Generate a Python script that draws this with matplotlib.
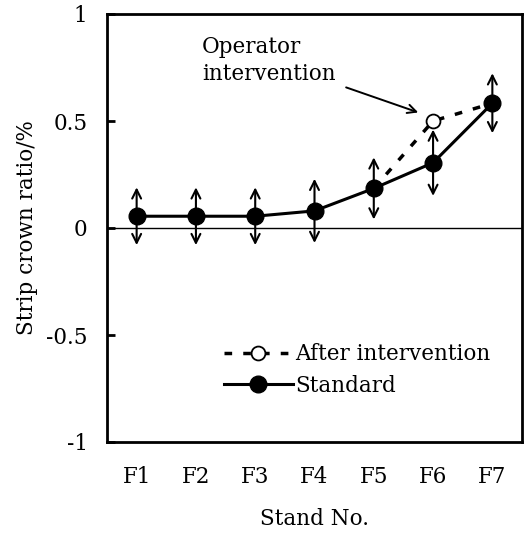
import numpy as np
import matplotlib
matplotlib.use('Agg')
import matplotlib.pyplot as plt

plt.rcParams['font.family'] = ['DejaVu Serif']

stands = ['F1', 'F2', 'F3', 'F4', 'F5', 'F6', 'F7']
standard = [0.055, 0.055, 0.055, 0.08, 0.185, 0.305, 0.583]
spread = [0.135, 0.135, 0.135, 0.15, 0.145, 0.155, 0.14]
after_stands = ['F5', 'F6', 'F7']
after = [0.185, 0.5, 0.583]

x = np.arange(1, len(stands) + 1)
x_after = [stands.index(s) + 1 for s in after_stands]

fig = plt.figure(figsize=(5.28, 5.33), dpi=100)
ax = fig.add_axes([107 / 528, 1 - 442 / 533, 415 / 528, 428 / 533])

# variation range at each stand
for xi, yi, d in zip(x, standard, spread):
    ax.annotate('', xy=(xi, yi + d), xytext=(xi, yi - d),
                arrowprops=dict(arrowstyle='<->', lw=1.5, color='black',
                                mutation_scale=16, shrinkA=0, shrinkB=0))

ax.axhline(0, color='black', lw=1.0)

ax.plot(x_after, after, ls=(0, (2.2, 3.2)), lw=2.5, color='black',
        marker='o', markersize=10, markerfacecolor='white',
        markeredgewidth=1.3, markevery=[1], label='After intervention', zorder=3)
ax.plot(x, standard, '-', lw=2.2, color='black', marker='o', markersize=12,
        markerfacecolor='black', label='Standard', zorder=4)

ax.annotate('Operator\nintervention', xy=(5.75, 0.54), xytext=(2.1, 0.67),
            fontsize=15.5, ha='left', va='bottom', linespacing=1.25,
            arrowprops=dict(arrowstyle='->', lw=1.4, color='black',
                            shrinkA=6, shrinkB=0))

ax.set_xlim(0.5, 7.5)
ax.set_ylim(-1, 1)
ax.set_xticks(x)
ax.set_xticklabels(stands)
ax.set_yticks([-1, -0.5, 0, 0.5, 1])
ax.set_yticklabels(['-1', '-0.5', '0', '0.5', '1'])
ax.tick_params(axis='x', length=0, labelsize=15.5, pad=17)
ax.tick_params(axis='y', direction='in', length=6, width=2, labelsize=15.5, pad=14)
for sp in ax.spines.values():
    sp.set_linewidth(2)

ax.set_xlabel('Stand No.', fontsize=15.5, labelpad=15)
ax.set_ylabel('Strip crown ratio/%', fontsize=15.5, labelpad=6)

ax.legend(loc='center right', bbox_to_anchor=(0.97, 0.168), frameon=False,
          fontsize=15.5, handlelength=3.2, handletextpad=0.1, labelspacing=0.45)

fig.savefig('out.png', dpi=100)
